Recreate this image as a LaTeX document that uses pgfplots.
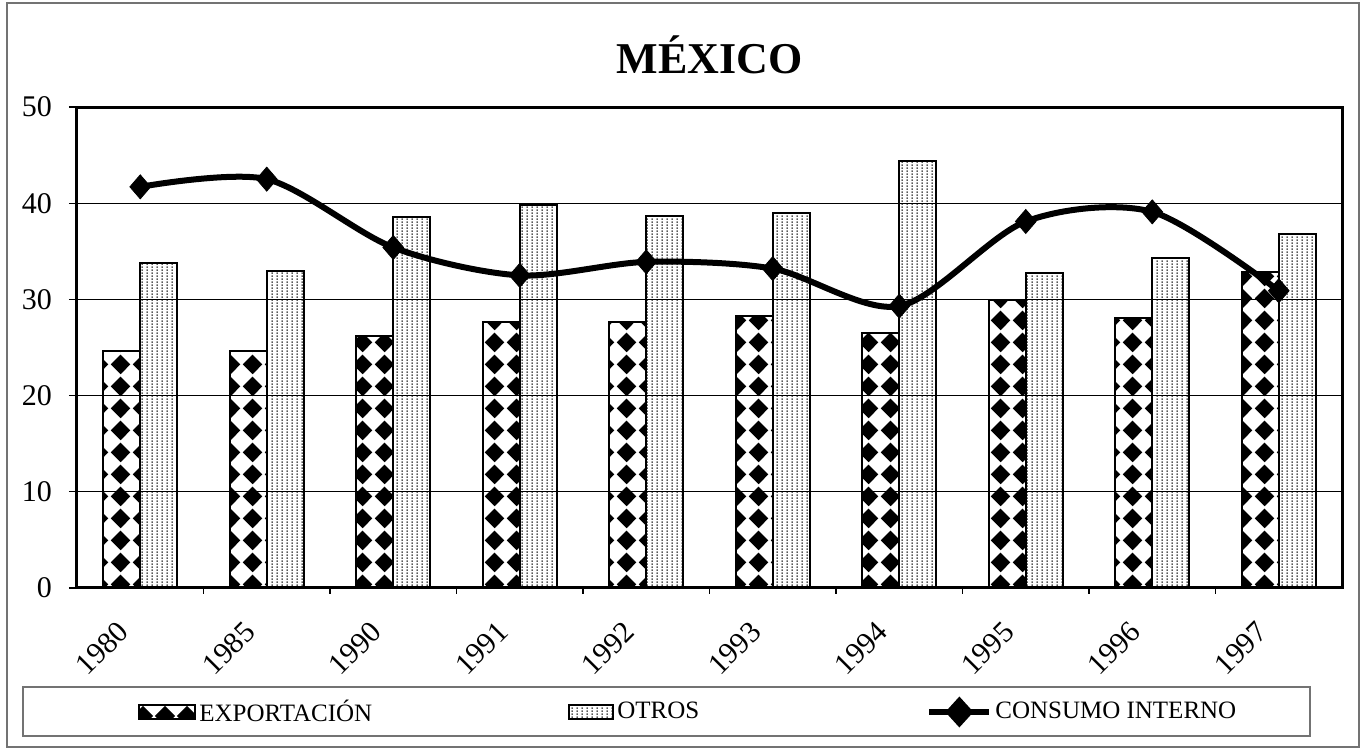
\documentclass[border=0pt]{standalone}
\usepackage{fontspec}
\setmainfont{Liberation Serif}
\usepackage{pgfplots}
\usepackage{pgfplotstable}
\pgfplotsset{compat=1.18}
\usetikzlibrary{patterns}

% rombos negros en damero (EXPORTACION)
\pgfdeclarepatternformonly{rombos}{\pgfqpoint{0pt}{0pt}}{\pgfqpoint{11pt}{11pt}}{\pgfqpoint{11pt}{11pt}}{%
  \pgfpathmoveto{\pgfqpoint{5.5pt}{0.4pt}}%
  \pgfpathlineto{\pgfqpoint{10.6pt}{5.5pt}}%
  \pgfpathlineto{\pgfqpoint{5.5pt}{10.6pt}}%
  \pgfpathlineto{\pgfqpoint{0.4pt}{5.5pt}}%
  \pgfpathclose
  \pgfusepath{fill}}
% punteado vertical (OTROS)
\pgfdeclarepatternformonly{punteado}{\pgfqpoint{0pt}{0pt}}{\pgfqpoint{2.5pt}{1.6pt}}{\pgfqpoint{2.5pt}{1.6pt}}{%
  \pgfpathrectangle{\pgfqpoint{0.9pt}{0pt}}{\pgfqpoint{0.7pt}{1pt}}%
  \pgfusepath{fill}}

\pgfplotstableread{
x exportacion otros consumo
0 24.6 33.8 41.7
1 24.6 33.0 42.5
2 26.2 38.6 35.4
3 27.7 39.8 32.5
4 27.6 38.7 33.9
5 28.3 39.0 33.2
6 26.5 44.4 29.3
7 29.9 32.7 38.1
8 28.1 34.3 39.1
9 32.9 36.8 30.9
}\datos

\begin{document}
\begin{tikzpicture}
\useasboundingbox (-38.5pt,-80.5pt) rectangle (644.5pt,294pt);
\draw[black!55, line width=0.6pt] (-35pt,-79.5pt) rectangle (641pt,292.5pt);
\draw[black!55, line width=0.6pt] (-27pt,-74pt) rectangle (616.5pt,-49.5pt);
\begin{axis}[
  at={(0pt,0pt)}, anchor=south west,
  scale only axis, width=632.5pt, height=240.5pt,
  xmin=-0.5, xmax=9.5, ymin=0, ymax=50,
  xtick={0,...,9},
  xticklabels={1980,1985,1990,1991,1992,1993,1994,1995,1996,1997},
  minor xtick={0.5,1.5,...,8.5},
  ytick={0,10,...,50},
  tick align=outside, xtick pos=bottom, ytick pos=left,
  major tick length=4pt, minor tick length=3pt,
  major x tick style={draw=none},
  tick style={black, line width=0.6pt},
  ymajorgrids, grid style={black, line width=0.5pt},
  axis line style={line width=1.5pt},
  tick label style={font=\fontsize{15}{18}\selectfont},
  /pgf/number format/assume math mode=true,
  yticklabel style={xshift=-5pt},
  xticklabel style={xshift=-12pt, yshift=-7pt, rotate=45, anchor=north east},
  title=MÉXICO,
  title style={font=\fontsize{22}{26}\selectfont\bfseries, at={(0.5,1)}, anchor=base, yshift=11pt},
  legend columns=3,
  legend style={at={(0.0482,-0.2578)}, anchor=west, draw=none, fill=none,
    inner sep=0pt, font=\fontsize{12.5}{14}\selectfont,
    nodes={inner sep=0.5pt},
    /tikz/column sep=1pt, cells={anchor=west}},
]
\addplot[ybar, bar width=18.5pt, bar shift=-9.25pt, draw=black, line width=1pt,
  pattern=rombos,
  legend image code/.code={\draw[line width=1pt, pattern=rombos] (0pt,-3.5pt) rectangle (28pt,3.5pt);}]
  table[x=x, y=exportacion] {\datos};
\addlegendentry{\makebox[183pt][l]{EXPORTACIÓN}}
\addplot[ybar, bar width=18.5pt, bar shift=9.25pt, draw=black, line width=1pt,
  pattern=punteado,
  legend image code/.code={\draw[line width=1pt, pattern=punteado] (0pt,-3.5pt) rectangle (22pt,3.5pt);}]
  table[x=x, y=otros] {\datos};
\addlegendentry{\makebox[153pt][l]{OTROS}}
\addplot[smooth, black, line width=3pt, mark=diamond*, mark size=6pt,
  mark options={line width=0.4pt, xscale=1.15},
  legend image code/.code={\draw[line width=3pt] (0pt,0pt) -- (30pt,0pt);
    \fill (15pt,5.5pt) -- (20pt,0pt) -- (15pt,-5.5pt) -- (10pt,0pt) -- cycle;}]
  table[x=x, y=consumo] {\datos};
\addlegendentry{CONSUMO INTERNO}
\end{axis}
\end{tikzpicture}
\end{document}
